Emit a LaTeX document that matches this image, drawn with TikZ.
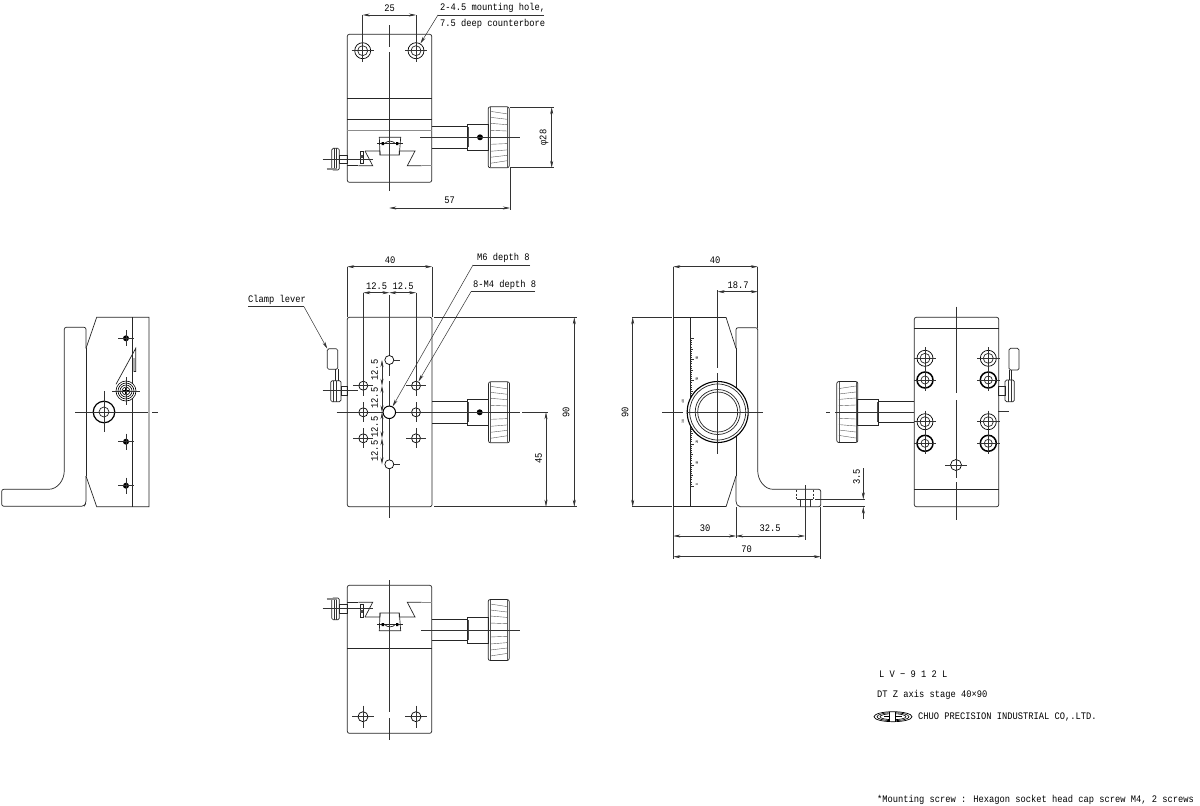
\documentclass[tikz,border=0pt]{standalone}
\usepackage{fontspec}
\setmainfont[FakeStretch=0.875]{Liberation Mono}
\usetikzlibrary{arrows.meta}
\tikzset{
	part/.style={line width=0.7pt, black!85},
	centre/.style={line width=0.5pt, black!80},
	grayline/.style={line width=1pt, black!45},
	dimen/.style={line width=0.5pt, black!80, {Stealth[length=7pt,width=3pt]}-{Stealth[length=7pt,width=3pt]}},
	leader/.style={line width=0.5pt, black!80, -{Stealth[length=7pt,width=3pt]}},
	label/.style={font=\fontsize{10}{11}\selectfont, inner sep=0pt},
	blind/.style={circle, draw, line width=0.7pt, minimum size=9pt, inner sep=0pt, fill=white},
	plug/.style={circle, fill=black, minimum size=6pt, inner sep=0pt},
	drive/.pic={
			\draw[part] (0,-10.6) -- (35.5,-10.6) (0,10.6) -- (35.5,10.6);
			\draw[part] (35.5,-13) rectangle (56.5,13);
			\draw[line width=1pt, black!70] (36.5,-10) -- (36.5,10);
			\draw[part, rounded corners=2pt] (56.5,-30.5) rectangle (77.5,30.5);
			\draw[line width=0.4pt, black!65] (58.5,-30) -- (58.5,30) (75.5,-30) -- (75.5,30);
			\foreach \ky in {-26,-20,-14,-7,0,7,14,20,26}
			\draw[line width=0.4pt, black!65] (58.5,\ky) -- (75.5,{\ky*0.9});
		},
	dovetail/.pic={
			\draw[part] (365,151) -- (372.7,165.7) -- (358.3,165.7);
			\draw[part] (347.3,165.7) -- (358.3,165.7);
			\draw[part] (365,151) -- (380,151) -- (380,155) -- (399.3,155) -- (399.3,151) -- (415,151) -- (407.3,165.7) -- (421.7,165.7);
			\draw[grayline] (421.7,165.7) -- (431.7,165.7);
			% Slider block
			\draw[part] (380,155) -- (379.3,137.3) -- (400.7,137.3) -- (399.3,155);
			\draw[part] (377,143.3) -- (403,143.3);
			\draw[part] (385,143.3) .. controls (387,140.5) and (393,140.5) .. (395,143.3);
			\fill[black] (381.7,142) rectangle (384,145) (396,142) rectangle (398.3,145);
			\draw[part] (360,151) rectangle (363.3,163.3);
			\fill[black!70] (360,155) rectangle (363.3,158);
			% Clamp
			\draw[part] (339.3,155) rectangle (347.3,163.3);
			\draw[part, rounded corners=1.5pt] (331.7,148.3) rectangle (339.3,170);
			\draw[centre] (334,148.3) -- (334,170) (336.7,148.3) -- (336.7,170);
			\draw[grayline, line width=1.5pt] (326.7,169) -- (336.7,169);
			\draw[centre] (322.7,159.3) -- (373,159.3);
		}
}
\begin{document}
\begin{tikzpicture}[x=1pt, y=-1pt]
	\path[use as bounding box, fill=white] (0,0) rectangle (1200,806);

	% Top view
	\draw[part, rounded corners=2pt] (347.3,182.3) -- (347.3,34.3) -- (431.7,34.3) -- (431.7,182.3) -- cycle;
	\draw[part] (347.3,98.3) -- (431.7,98.3) (347.3,119.3) -- (431.7,119.3);
	\draw[grayline] (347.3,130) -- (431.7,130);
	\pic at (0,0) {dovetail};
	\pic at (431.7,137.3) {drive};
	\node[plug] (plugtop) at (480,137.3) {};
	\foreach \hx/\hn in {362.7/mounta, 416/mountb} {
			\node[blind, minimum size=16pt] (\hn) at (\hx,50.7) {};
			\draw[part] (\hn.center) circle[radius=5];
			\draw[centre] (\hx,39) -- (\hx,62) (\hx-11,50.7) -- (\hx+11,50.7);
		}
	\draw[centre] (389.3,25) -- (389.3,47) (389.3,52) -- (389.3,191);
	\draw[centre] (420,137.3) -- (520,137.3);
	% Top view dimensions
	\draw[centre] (362.7,15) -- (362.7,39) (416,15) -- (416,39);
	\draw[dimen] (362.7,15) -- (416,15);
	\node[label] (dimtoptwentyfive) at (389.5,8) {25};
	\draw[centre] (510,107.3) -- (554,107.3) (510,167.7) -- (554,167.7);
	\draw[dimen] (551.7,107.3) -- (551.7,167.7);
	\node[label, rotate=90] (dimknob) at (544,137.5) {φ28};
	\draw[centre] (510,168) -- (510,210);
	\draw[dimen] (389.3,208) -- (510,208);
	\node[label] (dimtravel) at (449.5,200) {57};
	\node[label, anchor=west] (mounttext) at (440,7.5) {2-4.5 mounting hole,};
	\node[label, anchor=west] (borettext) at (440,24) {7.5 deep counterbore};
	\coordinate (mountknee) at (438,15);
	\draw[centre] (544,15) -- (mountknee);
	\draw[leader] (mountknee) -- (mountb);

	% Front view
	\draw[part, rounded corners=2pt] (347.3,317.3) rectangle (432,506.7);
	\pic at (432,412.3) {drive};
	\node[plug] (plugfront) at (479.7,412.3) {};
	\draw[centre] (389.3,295) -- (389.3,376) (389.3,381) -- (389.3,518);
	\draw[centre] (336.7,412.3) -- (520,412.3);
	\foreach \hx/\hy/\hn in {363.3/385.7/fronta, 416/385.7/frontb, 363.3/412.3/frontc, 416/412.3/frontd, 363.3/438.3/fronte, 416/438.3/frontf} {
			\node[blind] (\hn) at (\hx,\hy) {};
			\draw[centre] (\hx-10,\hy) -- (\hx+10,\hy) (\hx,\hy-10) -- (\hx,\hy+10);
		}
	\node[blind] (frontg) at (389.3,360) {};
	\node[blind] (fronth) at (389.3,464.3) {};
	\draw[centre] (393,360) -- (400,360) (393,464.3) -- (400,464.3);
	\node[blind, minimum size=12.5pt, line width=1pt] (tapped) at (389.3,412.3) {};
	% Clamp lever
	\draw[part, rounded corners=1.5pt] (337.7,348.7) -- (327.3,348.7) -- (327.3,369.3) -- (337.7,369.3) -- cycle;
	\draw[part] (335,369.3) -- (335,381) (338.3,369.3) -- (338.3,381);
	\draw[part, rounded corners=1.5pt] (330.7,380.7) rectangle (341,401.7);
	\draw[part] (341,386) rectangle (347.3,395.7);
	\draw[centre] (333,380.7) -- (333,401.7) (336,380.7) -- (336,401.7);
	\draw[centre] (322.7,390.7) -- (358,390.7);
	% Front view dimensions
	\draw[centre] (347.3,266.7) -- (347.3,317) (432,266.7) -- (432,317);
	\draw[dimen] (347.3,266.7) -- (432,266.7);
	\node[label] (dimfrontwidth) at (390,260) {40};
	\draw[centre] (363.3,292.7) -- (363.3,380) (416,292.7) -- (416,380);
	\draw[dimen] (363.3,292.7) -- (389.3,292.7);
	\draw[dimen] (389.3,292.7) -- (416,292.7);
	\node[label] (dimpitcha) at (376.5,286) {12.5};
	\node[label] (dimpitchb) at (403,286) {12.5};
	\draw[dimen] (382,360) -- (382,385.7);
	\draw[dimen] (382,385.7) -- (382,412.3);
	\draw[dimen] (382,412.3) -- (382,438.3);
	\draw[dimen] (382,438.3) -- (382,464.3);
	\foreach \py/\pn in {370/dimpitchc, 398/dimpitchd, 427/dimpitche, 451/dimpitchf}
	\node[label, rotate=90] (\pn) at (374.5,\py) {12.5};
	\draw[centre] (434,317.3) -- (577,317.3) (434,506.7) -- (577,506.7);
	\draw[dimen] (574.3,317.3) -- (574.3,506.7);
	\node[label, rotate=90] (dimheight) at (566,412) {90};
	\draw[centre] (522,412.3) -- (548,412.3);
	\draw[dimen] (546,412.3) -- (546,506.7);
	\node[label, rotate=90] (dimcentre) at (538.5,458) {45};
	% Leaders
	\node[label, anchor=west] (tappedtext) at (477,258) {M6 depth 8};
	\node[label, anchor=west] (blindtext) at (473,285) {8-M4 depth 8};
	\node[label, anchor=west] (clamptext) at (248,300) {Clamp lever};
	\coordinate (tappedknee) at (473,265);
	\coordinate (blindknee) at (471,291.7);
	\coordinate (clampknee) at (304,306.7);
	\coordinate (clamptip) at (327.3,348.7);
	\draw[centre] (530,265) -- (tappedknee);
	\draw[centre] (535,291.7) -- (blindknee);
	\draw[centre] (248,306.7) -- (clampknee);
	\draw[leader] (tappedknee) -- (tapped);
	\draw[leader] (blindknee) -- (frontb);
	\draw[leader] (clampknee) -- (clamptip);

	% Bottom view
	\draw[part, rounded corners=2pt] (347.3,585.3) rectangle (431.7,733.3);
	\draw[part] (347.3,648.3) -- (431.7,648.3);
	\pic[yscale=-1] at (0,768) {dovetail};
	\pic at (431.7,630) {drive};
	\draw[centre] (389.3,580) -- (389.3,712) (389.3,718) -- (389.3,740);
	\draw[centre] (421,630) -- (520,630);
	\foreach \hx/\hn in {363/basea, 416/baseb} {
			\node[blind, minimum size=10pt] (\hn) at (\hx,716.7) {};
			\draw[centre] (\hx-11,716.7) -- (\hx+11,716.7) (\hx,705.5) -- (\hx,728);
		}

	% Side view with the scale
	\draw[part, rounded corners=2pt] (736,348.3) -- (736,327.7) -- (757.7,327.7) -- (757.7,468.3) .. controls (757.7,481) and (765,489.3) .. (775,489.3) -- (820.7,489.3) -- (820.7,506.7) -- (738.3,506.7) -- (736,503.3) -- (736,476);
	\draw[part] (726,317.3) -- (673.3,317.3) -- (673.3,506.7) -- (726,506.7);
	\draw[part] (726,317.3) -- (736,348.3) (726,506.7) -- (736,476);
	\draw[part] (736,348.3) -- (736,476);
	\draw[part] (690,317.3) -- (690,506.7);
	\foreach \t in {0,...,70} {
			\pgfmathsetmacro{\tlen}{ifthenelse(mod(\t,10)==0,4,ifthenelse(mod(\t,5)==0,3,2))}
			\draw[line width=0.4pt, black!80] (690,486-2.11*\t) -- ++(\tlen,0);
		}
	\foreach \sy/\sn/\sv in {485/scalea/0, 463/scaleb/10, 442/scalec/20, 379/scalef/50, 358/scaleg/60}
	\node[font=\fontsize{3.5}{4}\selectfont, rotate=90] (\sn) at (697,\sy) {\sv};
	\foreach \sy/\sn/\sv in {421.7/scaled/30, 401.7/scalee/40}
	\node[font=\fontsize{3.5}{4}\selectfont, rotate=90] (\sn) at (683,\sy) {\sv};
	% Adjuster ring
	\node[circle, draw, line width=1.1pt, fill=white, minimum size=61pt, inner sep=0pt] (ring) at (717.7,412) {};
	\foreach \rr in {28,22.5,20}
	\draw[part] (ring.center) circle[radius=\rr];
	\draw[centre] (717.7,290) -- (717.7,368) (717.7,373) -- (717.7,454);
	\draw[centre] (662,412) -- (683,412) (687,412) -- (762.7,412);
	% Counterbore hidden lines
	\draw[centre, dashed, dash pattern=on 2pt off 1.5pt] (796.7,490) -- (796.7,499.3) (813.3,490) -- (813.3,499.3);
	\draw[centre] (796.7,499.3) -- (813.3,499.3) (800,499.3) -- (800,506.7) (810,499.3) -- (810,506.7);
	% Side view dimensions
	\draw[centre] (673.3,266.7) -- (673.3,317) (673.3,507) -- (673.3,559);
	\draw[centre] (757.7,266.7) -- (757.7,327.7);
	\draw[dimen] (673.3,266.7) -- (757.7,266.7);
	\node[label] (dimsidewidth) at (715,260) {40};
	\draw[dimen] (717.7,291.7) -- (757.7,291.7);
	\node[label] (dimring) at (738,285) {18.7};
	\draw[centre] (632,317.3) -- (672,317.3) (632,506.7) -- (672,506.7);
	\draw[dimen] (632.7,317.3) -- (632.7,506.7);
	\node[label, rotate=90] (dimsideheight) at (625,412) {90};
	\draw[centre] (736,507) -- (736,538) (805,485) -- (805,540) (820.7,507) -- (820.7,559);
	\draw[dimen] (673.3,536) -- (736,536);
	\draw[dimen] (736,536) -- (805,536);
	\draw[dimen] (673.3,556.7) -- (820.7,556.7);
	\node[label] (dimslider) at (705,528) {30};
	\node[label] (dimfoot) at (770,528) {32.5};
	\node[label] (dimoverall) at (746.7,549.5) {70};
	\draw[centre] (815,499.3) -- (865,499.3) (822.7,506.7) -- (865,506.7);
	\coordinate (cboretop) at (863.3,499.3);
	\coordinate (cborebot) at (863.3,506.7);
	\coordinate (cboreup) at (863.3,468);
	\coordinate (cboredown) at (863.3,519);
	\draw[leader] (cboreup) -- (cboretop);
	\draw[leader] (cboredown) -- (cborebot);
	\node[label, rotate=90] (dimcbore) at (856.5,477) {3.5};
	% Knob of the side view
	\pic[xscale=-1] at (914.3,412) {drive};
	\draw[centre] (826,412) -- (830,412) (835,412) -- (914.3,412);

	% Back view
	\draw[part, rounded corners=2pt] (914.3,506.7) -- (914.3,317.3) -- (998.7,317.3) -- (998.7,506.7) -- cycle;
	\draw[part] (914.3,328.3) -- (998.7,328.3) (914.3,489.3) -- (998.7,489.3);
	\foreach \hy/\hn in {358.3/a, 421.7/c} {
			\node[blind, minimum size=16pt] (lefthole\hn) at (925,\hy) {};
			\node[blind, minimum size=16pt] (righthole\hn) at (988.3,\hy) {};
			\draw[part] (lefthole\hn.center) circle[radius=5] (righthole\hn.center) circle[radius=5];
			\draw[centre] (914,\hy) -- (936,\hy) (925,\hy-11) -- (925,\hy+11) (977,\hy) -- (1000,\hy) (988.3,\hy-11) -- (988.3,\hy+11);
		}
	\foreach \hy/\hn in {380/b, 443.3/d} {
			\node[blind, minimum size=16pt, line width=1.5pt] (lefthole\hn) at (925,\hy) {};
			\node[blind, minimum size=16pt, line width=1.5pt] (righthole\hn) at (988.3,\hy) {};
			\draw[part] (lefthole\hn.center) circle[radius=4] (righthole\hn.center) circle[radius=4];
			\draw[centre] (914,\hy) -- (936,\hy) (925,\hy-11) -- (925,\hy+11) (977,\hy) -- (1000,\hy) (988.3,\hy-11) -- (988.3,\hy+11);
		}
	\node[blind, minimum size=11pt] (backhole) at (956,465) {};
	\draw[centre] (945,465) -- (967,465) (956,454) -- (956,476);
	\draw[centre] (956,306.7) -- (956,393) (956,400) -- (956,478) (956,482) -- (956,520);
	\draw[centre] (998,411.7) -- (1009,411.7);
	% Clamp of the back view
	\draw[part, rounded corners=1.5pt] (1009,348.3) -- (1019,348.3) -- (1019,370) -- (1009,370) -- cycle;
	\draw[part] (1009,370) -- (1009,380) (1011.5,370) -- (1011.5,380);
	\draw[part, rounded corners=1.5pt] (1005,380) rectangle (1014.3,401.7);
	\draw[part] (998.7,386.7) rectangle (1005,395);
	\draw[centre] (1008,380) -- (1008,401.7) (1011,380) -- (1011,401.7);

	% Opposite side view
	\draw[part, rounded corners=2pt] (86,348.3) -- (86,327.3) -- (64.3,327.3) -- (64.3,468.3) .. controls (64.3,481) and (57,489.3) .. (46.7,489.3) -- (1.7,489.3) -- (1.7,506.2) -- (84,506.2) -- (86,503.3) -- (86,476);
	\draw[part] (86,348.3) -- (86,476);
	\draw[part] (86,348.3) -- (96.7,317.3) -- (149,317.3) -- (149,506.7) -- (96.7,506.7) -- (86,476);
	\draw[part] (132.3,317.3) -- (132.3,506.7);
	\foreach \py/\pn in {338.3/pluga, 441.7/plugb, 485.7/plugc} {
			\node[plug] (\pn) at (126,\py) {};
			\draw[centre] (118,\py) -- (134,\py) (126,\py-8) -- (126,\py+8);
		}
	\draw[part] (116,384.3) -- (135.7,348.3) -- (135.7,371.5) -- (134,371.5) -- (134,358);
	\node[circle, draw, line width=0.6pt, fill=white, minimum size=20pt, inner sep=0pt] (clampring) at (126,391) {};
	\foreach \rr in {8,6,4}
	\draw[line width=0.6pt] (clampring.center) circle[radius=\rr];
	\draw[line width=1.2pt] (123,391) -- (129,391) (126,388) -- (126,394);
	\draw[centre] (112,391) -- (140,391) (126,377) -- (126,405);
	\node[blind, minimum size=21.5pt, line width=1.2pt] (stagehole) at (104,412) {};
	\draw[part] (stagehole.center) circle[radius=5];
	\draw[centre] (75,412) -- (148.3,412) (152,412) -- (158,412) (104,391) -- (104,432);

	% Title block
	\node[label, anchor=west] (modelname) at (879,674) {L V − 9 1 2 L};
	\node[label, anchor=west] (stagename) at (877,695) {DT Z axis stage 40×90};
	\node[label, anchor=west] (maker) at (918,717) {CHUO PRECISION INDUSTRIAL CO,.LTD.};
	\node[label, anchor=west] (screwnote) at (877,800) {*Mounting screw : Hexagon socket head cap screw M4, 2 screws};
	\foreach \lx/\ly in {16/4, 13/3}
	\draw[line width=0.6pt] (893,716.7) ellipse[x radius=\lx, y radius=\ly];
	\fill[white] (889.5,711) rectangle (895.5,722);
	\draw[line width=0.7pt] (893,716.7) ellipse[x radius=19, y radius=5];
	\draw[line width=0.7pt] (889.5,712) -- (889.5,721.5) (895.5,712) -- (895.5,721.5);
	\draw[line width=0.6pt] (884,716.7) -- (889.5,716.7) (895.5,716.7) -- (902,716.7);
\end{tikzpicture}
\end{document}
